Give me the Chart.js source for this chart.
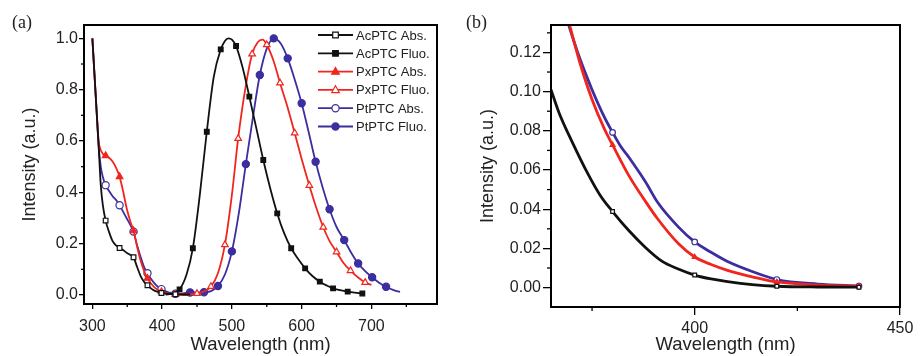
<!DOCTYPE html>
<html lang="en">
<head>
<meta charset="UTF-8">
<meta name="viewport" content="width=device-width, initial-scale=1.0">
<title>Absorption and fluorescence spectra</title>
<script src="https://cdn.jsdelivr.net/npm/chart.js@4"></script>
<style>
    body {
        margin: 0;
        background: #fff;
        width: 922px;
        height: 356px;
        overflow: hidden;
        position: relative;
        font-family: "Liberation Sans", Arial, sans-serif;
    }
    .panel { position: absolute; top: 0; height: 356px; }
    #boxA { left: 0; width: 460px; }
    #boxB { left: 460px; width: 462px; }
    .tag {
        position: absolute;
        font-family: "Liberation Serif", "Times New Roman", serif;
        font-size: 18px;
        color: #222;
    }
</style>
</head>
<body>

<div class="panel" id="boxA"><canvas id="chartA"></canvas></div>
<div class="panel" id="boxB"><canvas id="chartB"></canvas></div>
<div class="tag" style="left:12px; top:12px;">(a)</div>
<div class="tag" style="left:466px; top:12px;">(b)</div>

<script>
// ---- panel (a): normalised absorption / fluorescence ----
const acAbsWl = [300, 303, 306, 309, 312, 315, 319, 324, 329, 334, 339, 344, 349, 354, 359, 364, 369, 374, 379, 384, 389, 394, 399, 409, 419, 430, 440];
const acAbsI  = [1.0, 0.86, 0.72, 0.58, 0.43, 0.35, 0.29, 0.245, 0.21, 0.193, 0.183, 0.175, 0.165, 0.157, 0.147, 0.11, 0.075, 0.052, 0.038, 0.026, 0.017, 0.012, 0.008, 0.004, 0.003, 0.002, 0.002];
const acAbsMk = [319, 339, 359, 379, 399, 419];

const acFlWl = [405, 415, 425, 435, 444, 454, 464, 474, 484, 490, 495, 500, 506, 515, 525, 535, 545, 555, 565, 575, 585, 595, 605, 615, 626, 636, 645, 655, 666, 676, 687];
const acFlI  = [0.002, 0.006, 0.022, 0.08, 0.182, 0.39, 0.636, 0.85, 0.957, 0.99, 1.0, 0.995, 0.97, 0.89, 0.773, 0.65, 0.526, 0.415, 0.318, 0.24, 0.182, 0.14, 0.104, 0.075, 0.052, 0.037, 0.026, 0.019, 0.013, 0.009, 0.006];
const acFlMk = [425, 444, 464, 484, 506, 525, 545, 565, 585, 605, 626, 645, 666, 687];

const pxAbsWl = [300, 303, 306, 309, 312, 315, 319, 324, 329, 334, 339, 344, 349, 354, 359, 364, 369, 374, 379, 389, 399, 409, 419, 430, 440];
const pxAbsI  = [1.0, 0.86, 0.72, 0.6, 0.565, 0.55, 0.543, 0.535, 0.52, 0.495, 0.461, 0.405, 0.34, 0.29, 0.25, 0.19, 0.135, 0.095, 0.065, 0.03, 0.013, 0.005, 0.002, 0.001, 0.001];
const pxAbsMk = [319, 339, 359, 379, 399, 419];

const pxFlWl = [430, 440, 450, 460, 470, 480, 490, 500, 509, 519, 529, 537, 544, 550, 560, 569, 580, 590, 600, 611, 621, 631, 640, 650, 660, 670, 681, 691, 700];
const pxFlI  = [0.001, 0.003, 0.006, 0.014, 0.033, 0.085, 0.196, 0.39, 0.61, 0.8, 0.939, 0.985, 0.995, 0.975, 0.91, 0.826, 0.73, 0.631, 0.53, 0.427, 0.34, 0.264, 0.21, 0.168, 0.125, 0.095, 0.068, 0.049, 0.04];
const pxFlMk = [450, 470, 490, 509, 529, 550, 569, 590, 611, 631, 650, 670, 691];

const ptAbsWl = [300, 303, 306, 309, 312, 315, 319, 324, 329, 334, 339, 344, 349, 354, 359, 364, 369, 374, 379, 384, 389, 394, 399, 409, 419, 430, 440];
const ptAbsI  = [1.0, 0.86, 0.72, 0.58, 0.5, 0.46, 0.428, 0.405, 0.385, 0.37, 0.35, 0.325, 0.3, 0.275, 0.247, 0.195, 0.15, 0.11, 0.085, 0.063, 0.045, 0.032, 0.023, 0.01, 0.005, 0.003, 0.002];
const ptAbsMk = [319, 339, 359, 379, 399, 419];

const ptFlWl = [420, 430, 440, 450, 460, 470, 480, 490, 500, 510, 520, 530, 540, 550, 560, 570, 580, 590, 600, 610, 620, 630, 640, 650, 661, 671, 681, 691, 701, 711, 721, 731, 741];
const ptFlI  = [0.004, 0.006, 0.01, 0.01, 0.011, 0.015, 0.035, 0.08, 0.17, 0.32, 0.51, 0.69, 0.857, 0.96, 1.0, 0.98, 0.922, 0.84, 0.747, 0.635, 0.519, 0.42, 0.334, 0.265, 0.214, 0.165, 0.123, 0.093, 0.069, 0.048, 0.032, 0.02, 0.012];
const ptFlMk = [440, 460, 480, 500, 520, 540, 560, 580, 600, 620, 640, 661, 681, 701, 721];

const aXTicks = [300, 400, 500, 600, 700];
const aXMinor = [350, 450, 550, 650, 750];
const aYTicks = [0, 0.2, 0.4, 0.6, 0.8, 1.0];
const aYMinor = [0.1, 0.3, 0.5, 0.7, 0.9];

// ---- panel (b): absorption tails, zoomed ----
const bAcWl = [365, 367, 370, 374, 377, 380, 384, 388, 392, 396, 400, 404, 408, 414, 420, 430, 440];
const bAcI  = [0.101, 0.089, 0.075, 0.058, 0.047, 0.0388, 0.029, 0.0205, 0.0135, 0.0095, 0.0064, 0.0044, 0.003, 0.0015, 0.0007, 0.0003, 0.0002];
const bAcMk = [380, 400, 420, 440];

const bPxWl = [366, 369, 372, 375, 378, 380, 384, 388, 391, 396, 400, 404, 408, 414, 420, 430, 440];
const bPxI  = [0.16, 0.138, 0.115, 0.096, 0.081, 0.0728, 0.057, 0.044, 0.035, 0.0225, 0.0156, 0.0118, 0.0088, 0.0055, 0.0029, 0.0013, 0.0008];
const bPxMk = [380, 400, 420, 440];

const bPtWl = [366, 369, 372, 375, 378, 380, 382, 384, 388, 391, 396, 400, 404, 408, 414, 420, 430, 440];
const bPtI  = [0.157, 0.136, 0.117, 0.101, 0.087, 0.0792, 0.072, 0.0664, 0.054, 0.0434, 0.031, 0.0233, 0.018, 0.0133, 0.0082, 0.0041, 0.0018, 0.0008];
const bPtMk = [380, 400, 420, 440];

const bXTicks = [400, 450];
const bXMinor = [375, 425];
const bYTicks = [0, 0.02, 0.04, 0.06, 0.08, 0.10, 0.12];
const bYMinor = [0.01, 0.03, 0.05, 0.07, 0.09, 0.11, 0.13];

const BLACK = '#111111';
const RED = '#f0261e';
const BLUE = '#3b2e9e';

function series(label, wl, vals, marks, color, style, filled, width, radius) {
    return {
        label: label,
        data: wl.map((x, i) => ({ x: x, y: vals[i] })),
        borderColor: color,
        backgroundColor: color,
        borderWidth: width,
        pointStyle: style,
        pointBackgroundColor: filled ? color : '#ffffff',
        pointBorderColor: color,
        pointBorderWidth: 1.2,
        pointRadius: ctx => marks.includes(wl[ctx.dataIndex]) ? radius : 0,
        pointHoverRadius: 0,
        cubicInterpolationMode: 'monotone',
        fill: false,
        _filled: filled,
        _radius: radius
    };
}

function drawMarker(ctx, style, x, y, r, color, filled) {
    ctx.save();
    ctx.fillStyle = filled ? color : '#ffffff';
    ctx.strokeStyle = color;
    ctx.lineWidth = 1.2;
    ctx.beginPath();
    if (style === 'rect') {
        ctx.rect(x - r * 0.85, y - r * 0.85, r * 1.7, r * 1.7);
    } else if (style === 'triangle') {
        ctx.moveTo(x, y - r * 1.1);
        ctx.lineTo(x + r, y + r * 0.7);
        ctx.lineTo(x - r, y + r * 0.7);
        ctx.closePath();
    } else {
        ctx.arc(x, y, r, 0, Math.PI * 2);
    }
    ctx.fill();
    ctx.stroke();
    ctx.restore();
}

// frame, short minor ticks and an Origin-like legend inside the plot
const framePlugin = {
    id: 'frame',
    afterDraw(chart, args, opts) {
        const { ctx, chartArea: a } = chart;
        ctx.save();
        ctx.strokeStyle = '#000';
        ctx.lineWidth = 2;
        ctx.strokeRect(a.left, a.top, a.right - a.left, a.bottom - a.top);

        ctx.lineWidth = 1.3;
        const xs = chart.scales.x, ys = chart.scales.y;
        opts.minorX.forEach(v => {
            if (v < xs.min || v > xs.max) return;
            const px = xs.getPixelForValue(v);
            ctx.beginPath();
            ctx.moveTo(px, a.bottom);
            ctx.lineTo(px, a.bottom + opts.minorLen);
            ctx.stroke();
        });
        opts.minorY.forEach(v => {
            if (v < ys.min || v > ys.max) return;
            const py = ys.getPixelForValue(v);
            ctx.beginPath();
            ctx.moveTo(a.left, py);
            ctx.lineTo(a.left - opts.minorLen, py);
            ctx.stroke();
        });

        // legend
        const L = opts.legend;
        ctx.font = L.font;
        ctx.textBaseline = 'middle';
        ctx.textAlign = 'left';
        chart.data.datasets.forEach((ds, i) => {
            const y = L.y + i * L.step;
            ctx.strokeStyle = ds.borderColor;
            ctx.lineWidth = ds.borderWidth;
            ctx.beginPath();
            ctx.moveTo(L.x, y);
            ctx.lineTo(L.x + L.len, y);
            ctx.stroke();
            drawMarker(ctx, ds.pointStyle, L.x + L.len / 2, y, ds._radius, ds.borderColor, ds._filled);
            ctx.fillStyle = '#222';
            ctx.fillText(ds.label, L.x + L.len + 3, y + 1);
        });
        ctx.restore();
    }
};

function makeChart(id, datasets, cfg) {
    return new Chart(document.getElementById(id), {
        type: 'line',
        data: { datasets: datasets },
        plugins: [framePlugin],
        options: {
            responsive: true,
            maintainAspectRatio: false,
            animation: false,
            events: [],
            layout: { padding: { top: 25, right: cfg.padRight, left: 0, bottom: 0 } },
            plugins: {
                legend: { display: false },
                tooltip: { enabled: false },
                frame: cfg.frame
            },
            scales: {
                x: {
                    type: 'linear',
                    min: cfg.xMin,
                    max: cfg.xMax,
                    afterBuildTicks: s => { s.ticks = cfg.xTicks.map(v => ({ value: v })); },
                    afterFit: s => { s.height = cfg.xHeight; },
                    grid: { drawOnChartArea: false, drawTicks: true, tickLength: cfg.tickLen, color: '#000', lineWidth: 1.3 },
                    border: { display: false },
                    ticks: { color: '#222', padding: cfg.xPad, maxRotation: 0, font: { size: 16, family: '"Liberation Sans", Arial' } },
                    title: { display: true, text: 'Wavelength (nm)', color: '#222', padding: { top: 0, bottom: 0 }, font: { size: 18.5, family: '"Liberation Sans", Arial' } }
                },
                y: {
                    min: cfg.yMin,
                    max: cfg.yMax,
                    afterBuildTicks: s => { s.ticks = cfg.yTicks.map(v => ({ value: v })); },
                    afterFit: s => { s.width = cfg.yWidth; },
                    grid: { drawOnChartArea: false, drawTicks: true, tickLength: cfg.tickLen, color: '#000', lineWidth: 1.3 },
                    border: { display: false },
                    ticks: { color: '#222', padding: cfg.yPad, callback: v => v.toFixed(cfg.yDigits), font: { size: 16, family: '"Liberation Sans", Arial' } },
                    title: { display: true, text: 'Intensity (a.u.)', color: '#222', padding: { top: cfg.yTitlePad, bottom: 0 }, font: { size: 18, family: '"Liberation Sans", Arial' } }
                }
            }
        }
    });
}

makeChart('chartA', [
    series('AcPTC Abs.', acAbsWl, acAbsI, acAbsMk, BLACK, 'rect', false, 1.8, 3.3),
    series('AcPTC Fluo.', acFlWl, acFlI, acFlMk, BLACK, 'rect', true, 1.8, 3.3),
    series('PxPTC Abs.', pxAbsWl, pxAbsI, pxAbsMk, RED, 'triangle', true, 1.8, 3.8),
    series('PxPTC Fluo.', pxFlWl, pxFlI, pxFlMk, RED, 'triangle', false, 1.8, 3.8),
    series('PtPTC Abs.', ptAbsWl, ptAbsI, ptAbsMk, BLUE, 'circle', false, 1.8, 3.6),
    series('PtPTC Fluo.', ptFlWl, ptFlI, ptFlMk, BLUE, 'circle', true, 1.8, 3.6)
], {
    xMin: 288, xMax: 794, xTicks: aXTicks,
    yMin: -0.035, yMax: 1.052, yTicks: aYTicks, yDigits: 1,
    padRight: 23, xHeight: 52, yWidth: 84, tickLen: 5, xPad: 8, yPad: 1, yTitlePad: 19,
    frame: { minorX: aXMinor, minorY: aYMinor, minorLen: 3,
             legend: { x: 318, y: 35, step: 18.3, len: 35, font: '13px "Liberation Sans", Arial' } }
});

makeChart('chartB', [
    series('AcPTC Abs.', bAcWl, bAcI, bAcMk, BLACK, 'rect', false, 2.8, 2.6),
    series('PXZPTC Abs.', bPxWl, bPxI, bPxMk, RED, 'triangle', true, 2.8, 2.8),
    series('PTZPTC Abs.', bPtWl, bPtI, bPtMk, BLUE, 'circle', false, 2.8, 2.8)
], {
    xMin: 365, xMax: 450, xTicks: bXTicks,
    yMin: -0.0099, yMax: 0.134, yTicks: bYTicks, yDigits: 2,
    padRight: 22, xHeight: 49, yWidth: 91, tickLen: 8, xPad: 4, yPad: 2, yTitlePad: 17,
    frame: { minorX: bXMinor, minorY: bYMinor, minorLen: 4,
             legend: { x: 769, y: 37, step: 18.5, len: 37, font: '14.5px "Liberation Sans", Arial' } }
});
</script>

</body>
</html>
